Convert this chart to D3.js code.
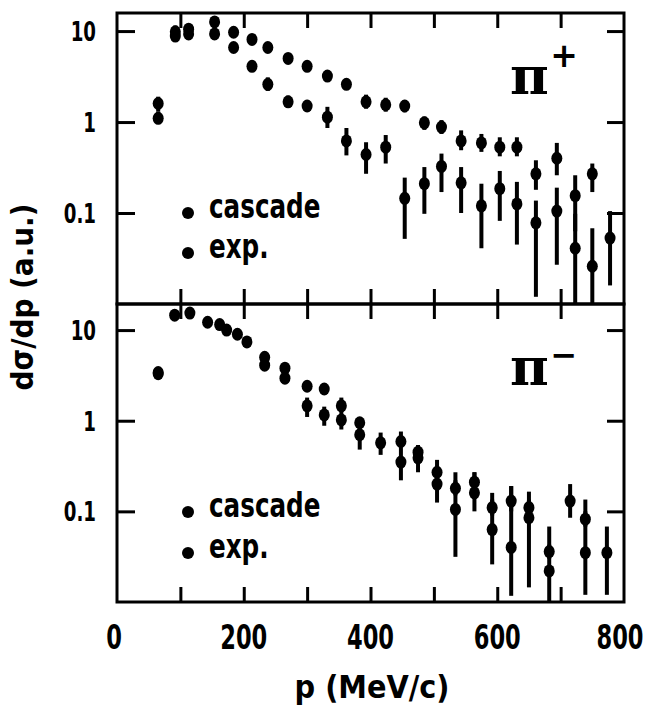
<!DOCTYPE html>
<html lang="en">
<head>
    <meta charset="UTF-8">
    <title>Pion momentum spectra</title>
    <script src="https://d3js.org/d3.v7.min.js"></script>
    <style>
        body { margin: 0; background: #fff; }
        svg { display: block; }
        .lbl {
            font-family: "DejaVu Sans Condensed", "DejaVu Sans", sans-serif;
            font-weight: bold;
            fill: #000;
        }
        .axis path { display: none; }
        .axis line { stroke: #000; stroke-width: 3; }
    </style>
</head>
<body>
<svg id="chart"></svg>
<script>
    // pi+ panel, cascade (upper sequence)
    const plusCascadeP  = [65, 92, 113, 154, 184, 213, 238, 270, 300, 332, 362, 393, 424, 454, 485, 512, 543, 575, 604, 631, 661, 694, 723, 750, 778];
    const plusCascadeV  = [1.6, 9.8, 10.5, 12.6, 9.7, 8.1, 6.6, 5.0, 4.1, 3.2, 2.6, 1.67, 1.55, 1.5, 0.98, 0.88, 0.62, 0.59, 0.53, 0.53, 0.27, 0.40, 0.155, 0.27, 0.053];
    const plusCascadeLo = [1.3, 8.5, 9.5, 11.5, 9.0, 7.5, 6.1, 4.6, 3.8, 2.9, 2.4, 1.4, 1.3, 1.28, 0.82, 0.74, 0.49, 0.47, 0.42, 0.42, 0.18, 0.26, 0.063, 0.17, 0.016];
    const plusCascadeHi = [1.9, 11.5, 11.5, 14.0, 10.5, 8.7, 7.1, 5.4, 4.4, 3.5, 2.8, 2.0, 1.85, 1.75, 1.15, 1.05, 0.81, 0.74, 0.68, 0.68, 0.38, 0.59, 0.26, 0.35, 0.105];

    // pi+ panel, exp. (lower sequence)
    const plusExpP  = [65, 92, 113, 154, 184, 213, 238, 270, 300, 332, 362, 393, 424, 454, 485, 512, 543, 575, 604, 631, 661, 694, 723, 750];
    const plusExpV  = [1.1, 8.8, 9.3, 9.3, 6.6, 4.1, 2.6, 1.67, 1.5, 1.13, 0.62, 0.44, 0.53, 0.145, 0.21, 0.325, 0.215, 0.12, 0.185, 0.126, 0.078, 0.105, 0.041, 0.026];
    const plusExpLo = [0.95, 7.8, 8.4, 8.4, 5.9, 3.6, 2.2, 1.45, 1.3, 0.86, 0.43, 0.27, 0.35, 0.052, 0.098, 0.17, 0.1, 0.041, 0.082, 0.045, 0.012, 0.027, 0.01, 0.01];
    const plusExpHi = [1.3, 9.8, 10.2, 10.2, 7.3, 4.7, 3.1, 1.95, 1.75, 1.47, 0.86, 0.6, 0.72, 0.245, 0.32, 0.45, 0.32, 0.21, 0.29, 0.22, 0.137, 0.19, 0.098, 0.068];

    // pi- panel, cascade
    const minusCascadeP  = [65, 91, 143, 173, 205, 233, 265, 300, 327, 354, 383, 448, 475, 505, 534, 564, 592, 622, 650, 682, 739];
    const minusCascadeV  = [3.4, 14.6, 12.2, 10.0, 7.4, 5.0, 3.8, 2.4, 2.24, 1.46, 0.95, 0.59, 0.45, 0.27, 0.18, 0.21, 0.11, 0.13, 0.11, 0.036, 0.082];
    const minusCascadeLo = [3.0, 13.2, 11.2, 9.2, 6.8, 4.6, 3.4, 2.2, 2.05, 1.3, 0.85, 0.52, 0.4, 0.23, 0.15, 0.18, 0.09, 0.1, 0.09, 0.03, 0.068];
    const minusCascadeHi = [3.9, 16.2, 13.3, 10.9, 8.0, 5.4, 4.2, 2.6, 2.45, 1.65, 1.08, 0.68, 0.5, 0.32, 0.22, 0.27, 0.135, 0.19, 0.135, 0.043, 0.1];

    // pi- panel, exp.
    const minusExpP  = [65, 115, 162, 190, 233, 265, 300, 327, 354, 383, 416, 448, 475, 505, 534, 564, 592, 622, 650, 682, 715, 739, 773];
    const minusExpV  = [3.3, 15.4, 11.5, 9.0, 4.1, 2.95, 1.46, 1.16, 1.02, 0.70, 0.57, 0.35, 0.39, 0.2, 0.105, 0.16, 0.063, 0.04, 0.085, 0.022, 0.13, 0.035, 0.035];
    const minusExpLo = [3.0, 14.0, 10.5, 8.2, 3.7, 2.7, 1.1, 0.88, 0.8, 0.48, 0.42, 0.22, 0.27, 0.125, 0.0315, 0.1, 0.026, 0.0117, 0.0145, 0.01, 0.085, 0.012, 0.012];
    const minusExpHi = [3.7, 16.8, 12.5, 9.8, 4.5, 3.3, 1.8, 1.43, 1.8, 1.08, 0.74, 0.76, 0.54, 0.37, 0.27, 0.27, 0.16, 0.19, 0.165, 0.068, 0.2, 0.135, 0.068];

    const xTickLabels = [0, 200, 400, 600, 800];
    const xMinorTicks = [100, 200, 300, 400, 500, 600, 700];
    const yTickValues = [0.1, 1, 10];
    const legendNames = ["cascade", "exp."];

    const width = 646, height = 709;
    const svg = d3.select("#chart").attr("width", width).attr("height", height);
    svg.append("rect").attr("width", width).attr("height", height).attr("fill", "#fff");

    const x = d3.scaleLinear().domain([0, 800]).range([117, 624]);
    const yPlus = d3.scaleLog().domain([0.01, 15.8]).range([304, 13]);
    const yMinus = d3.scaleLog().domain([0.01, 19.4]).range([602, 304]);

    // squeezed bold text, the scan uses a narrow typeface
    function narrowText(parent, tx, ty, str, size, sx, anchor) {
        return parent.append("text").attr("class", "lbl")
            .attr("transform", "translate(" + tx + "," + ty + ") scale(" + sx + ",1)")
            .attr("text-anchor", anchor || "start")
            .style("font-size", size + "px").text(str);
    }

    function pack(P, V, Lo, Hi) {
        return P.map((p, i) => ({ p: p, v: V[i], lo: Lo[i], hi: Hi[i] }));
    }

    function drawPanel(y, series, sign, legendY) {
        const top = y.range()[1], bottom = y.range()[0];
        const g = svg.append("g");

        // ticks, pointing inward
        g.append("g").attr("class", "axis")
            .attr("transform", "translate(0," + top + ")")
            .call(d3.axisTop(x).tickValues(xMinorTicks).tickSize(-15).tickFormat(""));
        g.append("g").attr("class", "axis")
            .attr("transform", "translate(0," + bottom + ")")
            .call(d3.axisBottom(x).tickValues(xMinorTicks).tickSize(-15).tickFormat(""));
        g.append("g").attr("class", "axis")
            .attr("transform", "translate(" + x(0) + ",0)")
            .call(d3.axisLeft(y).tickValues(yTickValues).tickSize(-18).tickFormat(""));
        g.append("g").attr("class", "axis")
            .attr("transform", "translate(" + x(800) + ",0)")
            .call(d3.axisRight(y).tickValues(yTickValues).tickSize(-17).tickFormat(""));

        yTickValues.forEach(v => narrowText(g, 96, y(v) + 10, d3.format("")(v), 27, 0.75, "end"));

        // frame
        g.append("rect")
            .attr("x", x(0)).attr("y", top)
            .attr("width", x(800) - x(0)).attr("height", bottom - top)
            .attr("fill", "none").attr("stroke", "#000").attr("stroke-width", 3);

        // data
        series.forEach(s => {
            g.selectAll(null).data(s).enter().append("line")
                .attr("x1", d => x(d.p)).attr("x2", d => x(d.p))
                .attr("y1", d => y(Math.max(d.lo, 0.01))).attr("y2", d => y(d.hi))
                .attr("stroke", "#000").attr("stroke-width", 4);
            g.selectAll(null).data(s).enter().append("ellipse")
                .attr("cx", d => x(d.p)).attr("cy", d => y(d.v))
                .attr("rx", 5.5).attr("ry", 6.5).attr("fill", "#000");
        });

        // legend
        legendNames.forEach((name, i) => {
            g.append("circle").attr("cx", 188).attr("cy", legendY[i] - 5).attr("r", 6).attr("fill", "#000");
            narrowText(g, 209, legendY[i], name, 33, 0.83);
        });

        // particle label
        g.append("text").attr("x", 510).attr("y", top + 81)
            .style("font-family", "'DejaVu Serif', serif").style("font-weight", "bold")
            .style("font-size", "53px").text("π");
        g.append("text").attr("x", 564).attr("y", top + (sign === "+" ? 54 : 62))
            .attr("text-anchor", "middle")
            .style("font-family", "'DejaVu Sans', sans-serif").style("font-weight", "bold")
            .style("font-size", sign === "+" ? "33px" : "32px").text(sign === "+" ? "+" : "−");
    }

    drawPanel(yPlus,
        [pack(plusCascadeP, plusCascadeV, plusCascadeLo, plusCascadeHi),
         pack(plusExpP, plusExpV, plusExpLo, plusExpHi)],
        "+", [218, 258]);
    drawPanel(yMinus,
        [pack(minusCascadeP, minusCascadeV, minusCascadeLo, minusCascadeHi),
         pack(minusExpP, minusExpV, minusExpLo, minusExpHi)],
        "-", [517, 558]);

    // x tick labels (the last one pulled in a little so it stays on the page)
    xTickLabels.forEach(v => {
        const shift = v === 0 ? -3 : (v === 800 ? -4 : 0);
        narrowText(svg, x(v) + shift, 649, d3.format("")(v), 33, 0.76, "middle");
    });

    // axis titles
    svg.append("text").attr("class", "lbl")
        .attr("x", 372).attr("y", 698).attr("text-anchor", "middle")
        .style("font-size", "32px").text("p (MeV/c)");
    svg.append("text").attr("class", "lbl")
        .attr("transform", "translate(33,297) rotate(-90)").attr("text-anchor", "middle")
        .style("font-size", "31px").text("dσ/dp (a.u.)");
</script>
</body>
</html>
